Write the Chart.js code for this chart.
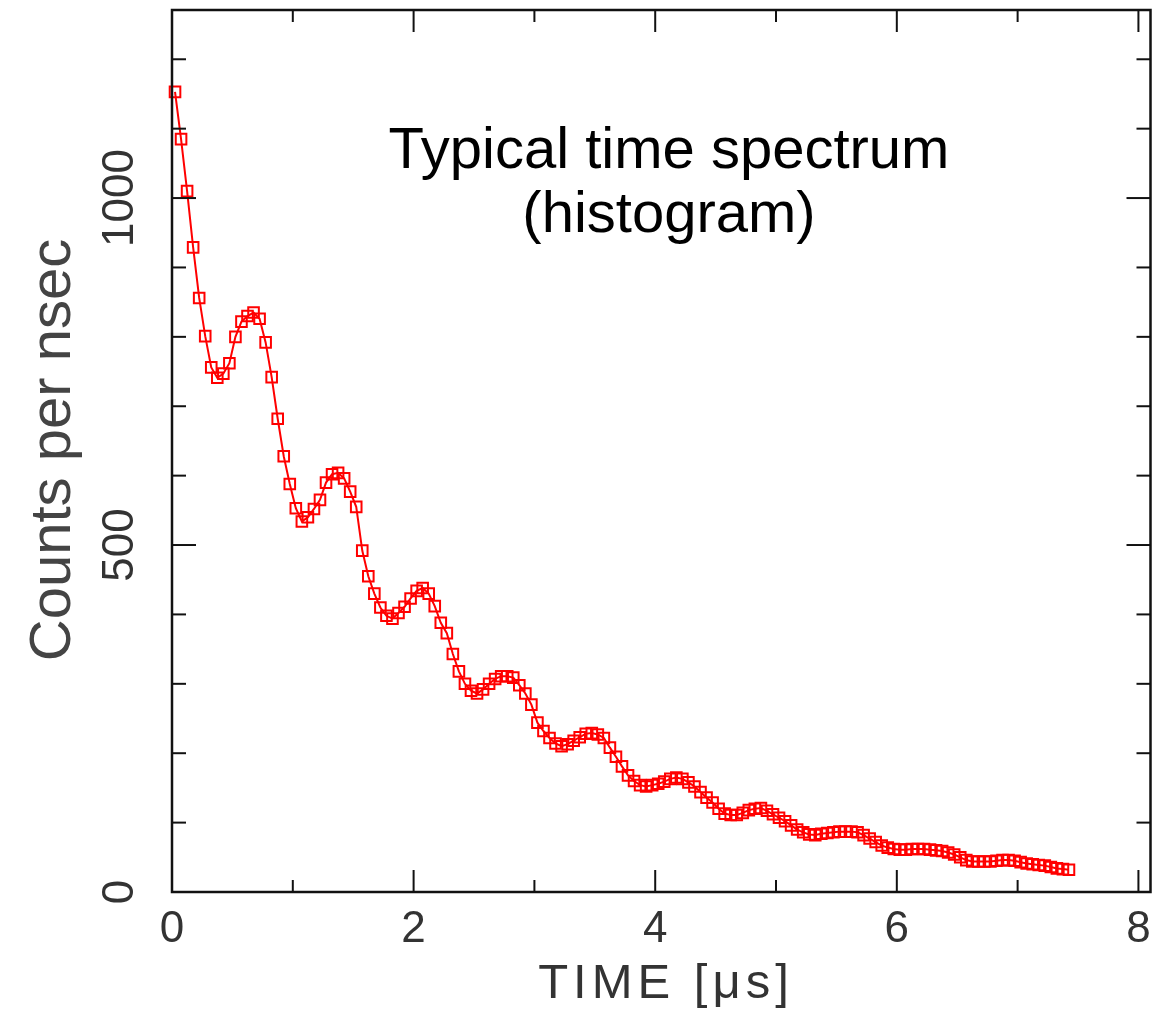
<!DOCTYPE html>
<html><head><meta charset="utf-8">
<script src="https://cdn.jsdelivr.net/npm/chart.js@4.4.1/dist/chart.umd.min.js"></script>
<style>html,body{margin:0;padding:0;background:#fff;overflow:hidden}canvas{display:block}</style>
</head><body>
<canvas id="c" width="1160" height="1014"></canvas>
<script>
const times = [
0.025,0.075,0.125,0.175,0.225,0.275,0.325,0.375,0.425,0.475,
0.525,0.575,0.625,0.675,0.725,0.775,0.825,0.875,0.925,0.975,
1.025,1.075,1.125,1.175,1.225,1.275,1.325,1.375,1.425,1.475,
1.525,1.575,1.625,1.675,1.725,1.775,1.825,1.875,1.925,1.975,
2.025,2.075,2.125,2.175,2.225,2.275,2.325,2.375,2.425,2.475,
2.525,2.575,2.625,2.675,2.725,2.775,2.825,2.875,2.925,2.975,
3.025,3.075,3.125,3.175,3.225,3.275,3.325,3.375,3.425,3.475,
3.525,3.575,3.625,3.675,3.725,3.775,3.825,3.875,3.925,3.975,
4.025,4.075,4.125,4.175,4.225,4.275,4.325,4.375,4.425,4.475,
4.525,4.575,4.625,4.675,4.725,4.775,4.825,4.875,4.925,4.975,
5.025,5.075,5.125,5.175,5.225,5.275,5.325,5.375,5.425,5.475,
5.525,5.575,5.625,5.675,5.725,5.775,5.825,5.875,5.925,5.975,
6.025,6.075,6.125,6.175,6.225,6.275,6.325,6.375,6.425,6.475,
6.525,6.575,6.625,6.675,6.725,6.775,6.825,6.875,6.925,6.975,
7.025,7.075,7.125,7.175,7.225,7.275,7.325,7.375,7.425
];
const counts = [
1153,1085,1010,929,856,801,756,741,747,762,
800,822,830,835,826,792,742,682,628,588,
553,534,540,552,565,590,602,604,596,577,
555,492,455,430,410,398,394,402,411,423,
434,438,430,412,388,373,343,318,300,290,
286,292,300,307,311,311,309,298,286,270,
244,232,222,214,210,213,218,223,228,229,
227,222,208,195,181,168,160,154,152,154,
156,159,163,165,163,158,152,144,136,129,
120,113,111,111,114,118,120,121,117,112,
107,102,96,90,86,83,82,84,85,86,
87,87,87,86,82,77,72,67,64,62,
61,61,62,62,62,61,60,59,57,54,
50,46,44,44,44,44,45,46,46,45,
43,41,40,39,38,36,34,33,32
];
const xMajorTicks = [0,2,4,6,8];
const xMinorTicks = [1,3,5,7];
const yMajorTicks = [0,500,1000];
const yMinorTicks = [100,200,300,400,600,700,800,900,1100,1200];
const titleLines = ['Typical time spectrum','(histogram)'];
const xTitle = 'TIME [\u03BCs]';
const yTitle = 'Counts per nsec';

const framePlugin = {
  id: 'framePlugin',
  afterDraw(chart) {
    const {ctx, chartArea: a, scales: {x, y}} = chart;
    ctx.save();
    ctx.strokeStyle = '#111';
    ctx.lineWidth = 2.5;
    ctx.strokeRect(a.left, a.top, a.right - a.left, a.bottom - a.top);
    ctx.lineWidth = 2;
    const seg = (x1, y1, x2, y2) => { ctx.beginPath(); ctx.moveTo(x1, y1); ctx.lineTo(x2, y2); ctx.stroke(); };
    const xt = (v, len) => { const p = x.getPixelForValue(v); seg(p, a.bottom, p, a.bottom - len); seg(p, a.top, p, a.top + len); };
    const yt = (v, len) => { const p = y.getPixelForValue(v); seg(a.left, p, a.left + len, p); seg(a.right, p, a.right - len, p); };
    xMajorTicks.forEach(v => xt(v, 22));
    xMinorTicks.forEach(v => xt(v, 12));
    yMajorTicks.forEach(v => yt(v, 24));
    yMinorTicks.forEach(v => yt(v, 14));

    ctx.fillStyle = '#333';
    ctx.font = '44px "Liberation Sans Narrow", "Liberation Sans", sans-serif';
    ctx.textAlign = 'center';
    ctx.textBaseline = 'alphabetic';
    xMajorTicks.forEach(v => ctx.fillText(String(v), x.getPixelForValue(v), 942));
    yMajorTicks.forEach(v => {
      ctx.save();
      ctx.translate(133, y.getPixelForValue(v));
      ctx.rotate(-Math.PI / 2);
      ctx.fillText(String(v), 0, 0);
      ctx.restore();
    });

    ctx.save();
    ctx.fillStyle = '#444';
    ctx.font = '58px "Liberation Sans", Arial, sans-serif';
    ctx.translate(70, 450);
    ctx.rotate(-Math.PI / 2);
    ctx.fillText(yTitle, 0, 0);
    ctx.restore();

    ctx.save();
    ctx.font = '49px "Liberation Sans", Arial, sans-serif';
    if ('letterSpacing' in ctx) ctx.letterSpacing = '5px';
    ctx.fillText(xTitle, 666, 998);
    ctx.restore();

    ctx.fillStyle = '#000';
    ctx.font = '58px "Liberation Sans", Arial, sans-serif';
    ctx.fillText(titleLines[0], 669, 168);
    ctx.fillText(titleLines[1], 669, 232);
    ctx.restore();
  }
};

new Chart(document.getElementById('c'), {
  type: 'line',
  data: {
    datasets: [{
      data: times.map((t, i) => ({x: t, y: counts[i]})),
      borderColor: '#ff0000',
      borderWidth: 2,
      pointStyle: 'rect',
      pointRadius: 7.5,
      pointBorderWidth: 2,
      pointBorderColor: '#ff0000',
      pointBackgroundColor: 'rgba(0,0,0,0)',
      tension: 0,
      clip: false
    }]
  },
  options: {
    responsive: false,
    animation: false,
    devicePixelRatio: 1,
    layout: {padding: {left: 172, right: 5, top: 10, bottom: 122}},
    plugins: {legend: {display: false}, tooltip: {enabled: false}, title: {display: false}},
    scales: {
      x: {type: 'linear', display: false, min: 0, max: 8.1},
      y: {type: 'linear', display: false, min: 0, max: 1271}
    }
  },
  plugins: [framePlugin]
});
</script>
</body></html>
